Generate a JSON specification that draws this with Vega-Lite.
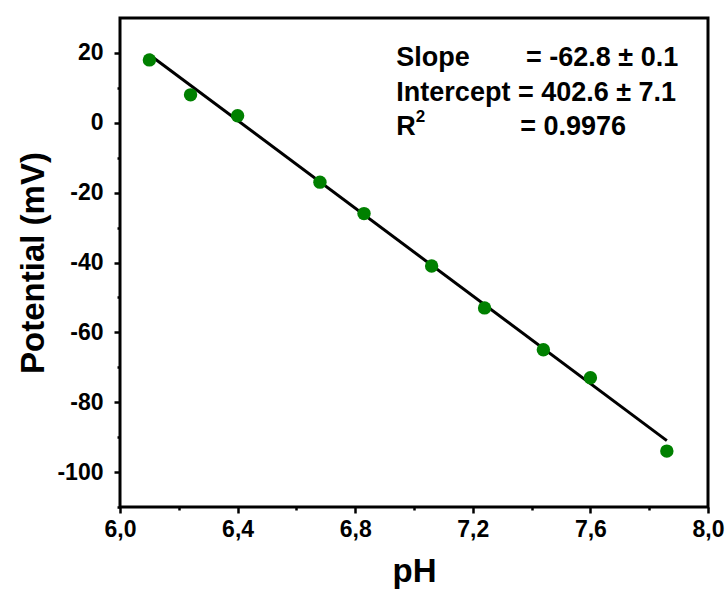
{
  "$schema": "https://vega.github.io/schema/vega-lite/v6.json",
  "width": 588,
  "height": 489,
  "autosize": {"type": "none"},
  "padding": {"left": 120, "top": 18, "right": 19, "bottom": 86},
  "background": "white",
  "config": {
    "view": {"stroke": "black", "strokeWidth": 3},
    "font": "Liberation Sans",
    "axis": {"grid": false, "domain": false, "tickColor": "black", "tickWidth": 2.5, "labelColor": "black", "titleColor": "black", "labelFont": "Liberation Sans", "titleFont": "Liberation Sans", "labelFontWeight": "bold", "titleFontWeight": "bold", "labelFontSize": 23, "titleFontSize": 33}
  },
  "resolve": {"axis": {"x": "independent", "y": "independent"}},
  "layer": [
    {
      "data": {"values": [{"pH": 6.1, "fit": 19.5}, {"pH": 7.86, "fit": -91.0}]},
      "mark": {"type": "line", "color": "black", "strokeWidth": 3},
      "encoding": {
        "x": {"field": "pH", "type": "quantitative", "scale": {"domain": [6.0, 8.0], "nice": false, "zero": false},
              "axis": {"orient": "bottom", "values": [6.0, 6.4, 6.8, 7.2, 7.6, 8.0], "labelExpr": "replace(format(datum.value, '.1f'), '.', ',')", "tickSize": 6, "labelPadding": 5, "title": "pH", "titlePadding": 14, "labelFlush": false}},
        "y": {"field": "fit", "type": "quantitative", "scale": {"domain": [-110, 30], "nice": false, "zero": false},
              "axis": {"orient": "left", "values": [-100, -80, -60, -40, -20, 0, 20], "labelExpr": "'' + datum.value", "tickSize": 6, "labelPadding": 11, "title": "Potential (mV)", "titlePadding": 6}}
      }
    },
    {
      "data": {"values": [
        {"pH": 6.1, "mV": 18},
        {"pH": 6.24, "mV": 8},
        {"pH": 6.4, "mV": 2},
        {"pH": 6.68, "mV": -17},
        {"pH": 6.83, "mV": -26},
        {"pH": 7.06, "mV": -41},
        {"pH": 7.24, "mV": -53},
        {"pH": 7.44, "mV": -65},
        {"pH": 7.6, "mV": -73},
        {"pH": 7.86, "mV": -94}
      ]},
      "mark": {"type": "point", "filled": true, "color": "#008000", "opacity": 1, "size": 180},
      "encoding": {
        "x": {"field": "pH", "type": "quantitative", "axis": {"orient": "bottom", "values": [6.2, 6.6, 7.0, 7.4, 7.8], "labels": false, "tickSize": 3, "title": null}},
        "y": {"field": "mV", "type": "quantitative", "axis": {"orient": "left", "values": [-110, -90, -70, -50, -30, -10, 10], "labels": false, "tickSize": 3, "title": null}}
      }
    },
    {
      "data": {"values": [
        {"t": "Slope", "px": 6.94, "py": 18.55},
        {"t": "=  -62.8 ± 0.1", "px": 7.381, "py": 18.55},
        {"t": "Intercept = 402.6 ± 7.1", "px": 6.94, "py": 8.53},
        {"t": "R", "px": 6.94, "py": -1.2},
        {"t": "= 0.9976", "px": 7.361, "py": -1.2}
      ]},
      "mark": {"type": "text", "align": "left", "baseline": "middle", "fontSize": 27, "fontWeight": "bold", "color": "black", "font": "Liberation Sans"},
      "encoding": {
        "x": {"field": "px", "type": "quantitative", "axis": null},
        "y": {"field": "py", "type": "quantitative", "axis": null},
        "text": {"field": "t"}
      }
    },
    {
      "data": {"values": [{"t": "2", "px": 7.006, "py": 1.6}]},
      "mark": {"type": "text", "align": "left", "baseline": "middle", "fontSize": 17, "fontWeight": "bold", "color": "black", "font": "Liberation Sans"},
      "encoding": {
        "x": {"field": "px", "type": "quantitative", "axis": null},
        "y": {"field": "py", "type": "quantitative", "axis": null},
        "text": {"field": "t"}
      }
    }
  ]
}
